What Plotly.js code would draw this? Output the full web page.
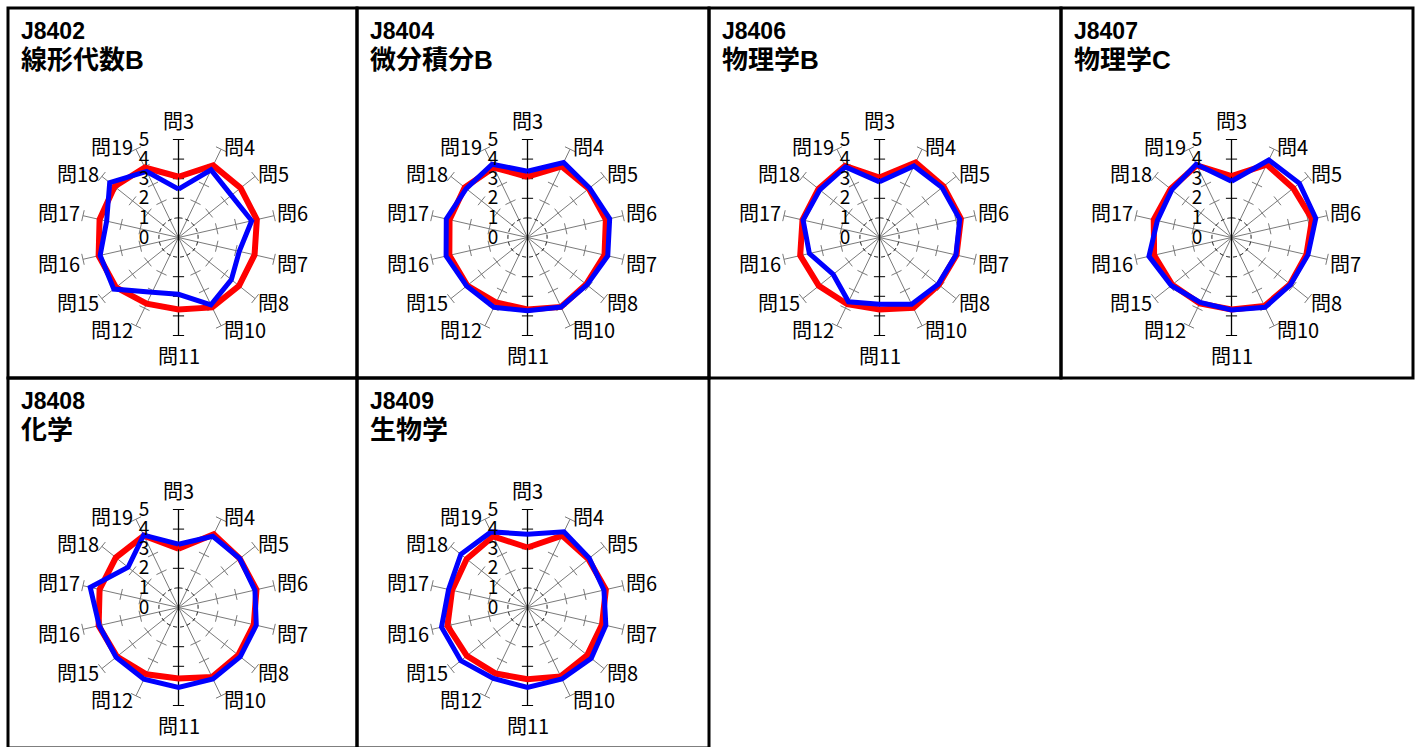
<!DOCTYPE html>
<html>
<head>
<meta charset="utf-8">
<script src="https://cdn.plot.ly/plotly-3.0.1.min.js"></script>
<style>
html,body{margin:0;padding:0;background:#fff;}
#chart{width:1415px;height:747px;}
</style>
</head>
<body>
<div id="chart"></div>
<script>
// ---- data ----
const categories = ['問3','問4','問5','問6','問7','問8','問10','問11','問12','問15','問16','問17','問18','問19'];
const radialTicks = [0, 1, 2, 3, 4, 5];
const panelCodes = ['J8402', 'J8404', 'J8406', 'J8407', 'J8408', 'J8409'];
const panelNames = ['線形代数B', '微分積分B', '物理学B', '物理学C', '化学', '生物学'];

const red_J8402  = [3.10, 4.08, 4.05, 4.10, 3.98, 3.95, 3.96, 3.67, 3.75, 4.08, 4.18, 4.13, 4.17, 3.96];
const blue_J8402 = [2.47, 3.83, 3.45, 3.83, 3.18, 3.45, 3.81, 2.90, 3.10, 4.22, 4.10, 3.76, 4.49, 3.74];

const red_J8404  = [3.10, 4.03, 4.00, 4.10, 4.03, 3.83, 3.93, 3.67, 3.68, 3.93, 4.09, 4.08, 4.10, 3.96];
const blue_J8404 = [3.38, 4.25, 4.05, 4.30, 4.20, 3.88, 3.94, 3.74, 3.95, 3.97, 4.26, 4.25, 4.00, 4.15];

const red_J8406  = [3.06, 4.25, 4.18, 4.26, 4.03, 3.87, 3.98, 3.67, 3.78, 3.96, 4.15, 4.03, 3.98, 4.06];
const blue_J8406 = [2.84, 4.05, 4.08, 4.20, 4.00, 3.83, 3.78, 3.40, 3.64, 3.02, 3.67, 4.00, 3.90, 4.00];

const red_J8407  = [3.13, 4.13, 4.03, 4.22, 3.92, 3.82, 3.88, 3.67, 3.73, 3.87, 4.05, 4.07, 3.97, 4.09];
const blue_J8407 = [2.87, 4.39, 4.43, 4.41, 4.00, 3.85, 3.95, 3.70, 3.68, 3.93, 4.32, 3.88, 3.90, 4.15];

const red_J8408  = [3.00, 4.15, 4.00, 4.08, 3.94, 3.90, 3.94, 3.62, 3.78, 4.02, 4.18, 4.13, 4.09, 4.07];
const blue_J8408 = [3.23, 4.03, 4.00, 4.00, 4.07, 4.03, 4.05, 4.08, 4.06, 4.07, 4.15, 4.62, 3.29, 4.10];

const red_J8409  = [3.06, 4.07, 3.97, 4.10, 3.90, 3.90, 3.90, 3.66, 3.74, 3.96, 4.19, 3.95, 3.97, 4.03];
const blue_J8409 = [3.74, 4.29, 4.03, 4.00, 4.10, 4.16, 4.05, 4.08, 4.02, 4.35, 4.50, 4.13, 4.35, 4.28];

const redSeries  = [red_J8402, red_J8404, red_J8406, red_J8407, red_J8408, red_J8409];
const blueSeries = [blue_J8402, blue_J8404, blue_J8406, blue_J8407, blue_J8408, blue_J8409];

// ---- layout helpers ----
const W = 1415, H = 747;
const FONT = '"Noto Sans CJK JP", "Noto Sans", sans-serif';
const TITLE_FONT = '"Liberation Sans", "Noto Sans CJK JP", sans-serif';
const colEdges = [8, 357, 709, 1061, 1413];
const rowEdges = [8, 378, 748];
const R = 98;               // pixel radius of the value-5 ring
const centerDX = 170.5;     // radar centre offset inside panel
const centerDY = 229.5;
const RMAX = radialTicks[radialTicks.length - 1];

const nCat = categories.length;
const thetaVals = categories.map((c, i) => i * 360 / nCat);
const closeArr = a => a.concat([a[0]]);
const half = nCat / 2;

const traces = [];
const layout = {
  width: W, height: H,
  margin: {l: 0, r: 0, t: 0, b: 0},
  paper_bgcolor: '#ffffff',
  showlegend: false,
  font: {family: FONT, color: '#000'},
  shapes: [],
  annotations: []
};

// circle guide
const circTheta = [];
for (let a = 0; a <= 360; a += 3) circTheta.push(a);

const px2x = p => p / W;
const py2y = p => 1 - p / H;

panelCodes.forEach((code, k) => {
  const col = k % 4, row = Math.floor(k / 4);
  const sub = k === 0 ? 'polar' : 'polar' + (k + 1);
  const x0 = colEdges[col], x1 = colEdges[col + 1];
  const y0 = rowEdges[row], y1 = rowEdges[row + 1];
  const cx = x0 + centerDX, cy = y0 + centerDY;

  // border
  layout.shapes.push({
    type: 'rect', xref: 'paper', yref: 'paper',
    x0: px2x(x0), x1: px2x(x1), y0: py2y(y1), y1: py2y(y0),
    line: {color: '#000', width: 3}, fillcolor: 'rgba(0,0,0,0)'
  });
  // title
  layout.annotations.push({
    xref: 'paper', yref: 'paper', x: px2x(x0 + 11), y: py2y(y0 + 8),
    xanchor: 'left', yanchor: 'top', align: 'left', showarrow: false,
    text: '<b>' + code + '</b><br><b><span style="font-size:26px">' + panelNames[k] + '</span></b>',
    font: {family: TITLE_FONT, size: 23, color: '#000'}
  });
  // category labels next to the spoke ends
  categories.forEach((c, i) => {
    const a = thetaVals[i] * Math.PI / 180;
    const ex = cx + R * Math.sin(a), ey = cy - R * Math.cos(a);
    let ann = {xref: 'paper', yref: 'paper', showarrow: false, text: c,
               font: {family: FONT, size: 20, color: '#000'}};
    if (i === 0) {
      Object.assign(ann, {x: px2x(ex), y: py2y(ey - 3), xanchor: 'center', yanchor: 'bottom'});
    } else if (i === half) {
      Object.assign(ann, {x: px2x(ex), y: py2y(ey + 3), xanchor: 'center', yanchor: 'top'});
    } else {
      const dy = Math.cos(a) < 0 ? 4 : -3;
      Object.assign(ann, {x: px2x(ex + (i < half ? 1 : -1)), y: py2y(ey + dy),
                          xanchor: i < half ? 'left' : 'right', yanchor: 'middle'});
    }
    layout.annotations.push(ann);
  });

  layout[sub] = {
    domain: {x: [px2x(cx - R), px2x(cx + R)], y: [py2y(cy + R), py2y(cy - R)]},
    bgcolor: '#ffffff',
    radialaxis: {
      range: [0, RMAX], angle: 90, side: 'counterclockwise', tickangle: 90,
      tickmode: 'array', tickvals: radialTicks, ticktext: radialTicks.map(String),
      showgrid: false, showline: false,
      ticks: 'outside', ticklen: 22, tickcolor: 'rgba(0,0,0,0)',
      tickfont: {family: FONT, size: 19, color: '#000'},
      layer: 'above traces'
    },
    angularaxis: {
      rotation: 90, direction: 'clockwise', thetaunit: 'degrees',
      tickmode: 'array', tickvals: thetaVals, ticktext: categories,
      showticklabels: false,
      showgrid: true, gridcolor: '#7a7a7a', gridwidth: 1,
      showline: false, ticks: ''
    }
  };

  // dashed ring at 1
  traces.push({
    type: 'scatterpolar', subplot: sub, mode: 'lines', hoverinfo: 'skip',
    r: circTheta.map(() => 1), theta: circTheta,
    line: {color: '#000', width: 1, dash: '4px,3px'}
  });
  // black vertical axis (問3 / 問11)
  traces.push({
    type: 'scatterpolar', subplot: sub, mode: 'lines', hoverinfo: 'skip',
    r: [RMAX, 0, RMAX], theta: [thetaVals[0], thetaVals[0], thetaVals[half]],
    line: {color: '#000', width: 1.3}
  });
  // cross ticks on spokes
  const tr = [], tt = [], tc = [];
  thetaVals.forEach((th, i) => {
    [2, 3, 4, 5].forEach(v => {
      tr.push(v); tt.push(th);
      tc.push(i === 0 || i === half ? '#000' : '#7a7a7a');
    });
  });
  traces.push({
    type: 'scatterpolar', subplot: sub, mode: 'markers', hoverinfo: 'skip',
    r: tr, theta: tt,
    marker: {symbol: 'line-ew', size: 8, angle: tt, color: tc,
             line: {color: tc, width: 1}}
  });
  // data
  traces.push({
    type: 'scatterpolar', subplot: sub, mode: 'lines',
    r: closeArr(redSeries[k]), theta: closeArr(thetaVals),
    line: {color: '#ff0000', width: 6}
  });
  traces.push({
    type: 'scatterpolar', subplot: sub, mode: 'lines',
    r: closeArr(blueSeries[k]), theta: closeArr(thetaVals),
    line: {color: '#0000ff', width: 5}
  });
});

Plotly.newPlot('chart', traces, layout, {staticPlot: true, displayModeBar: false});
</script>
</body>
</html>
